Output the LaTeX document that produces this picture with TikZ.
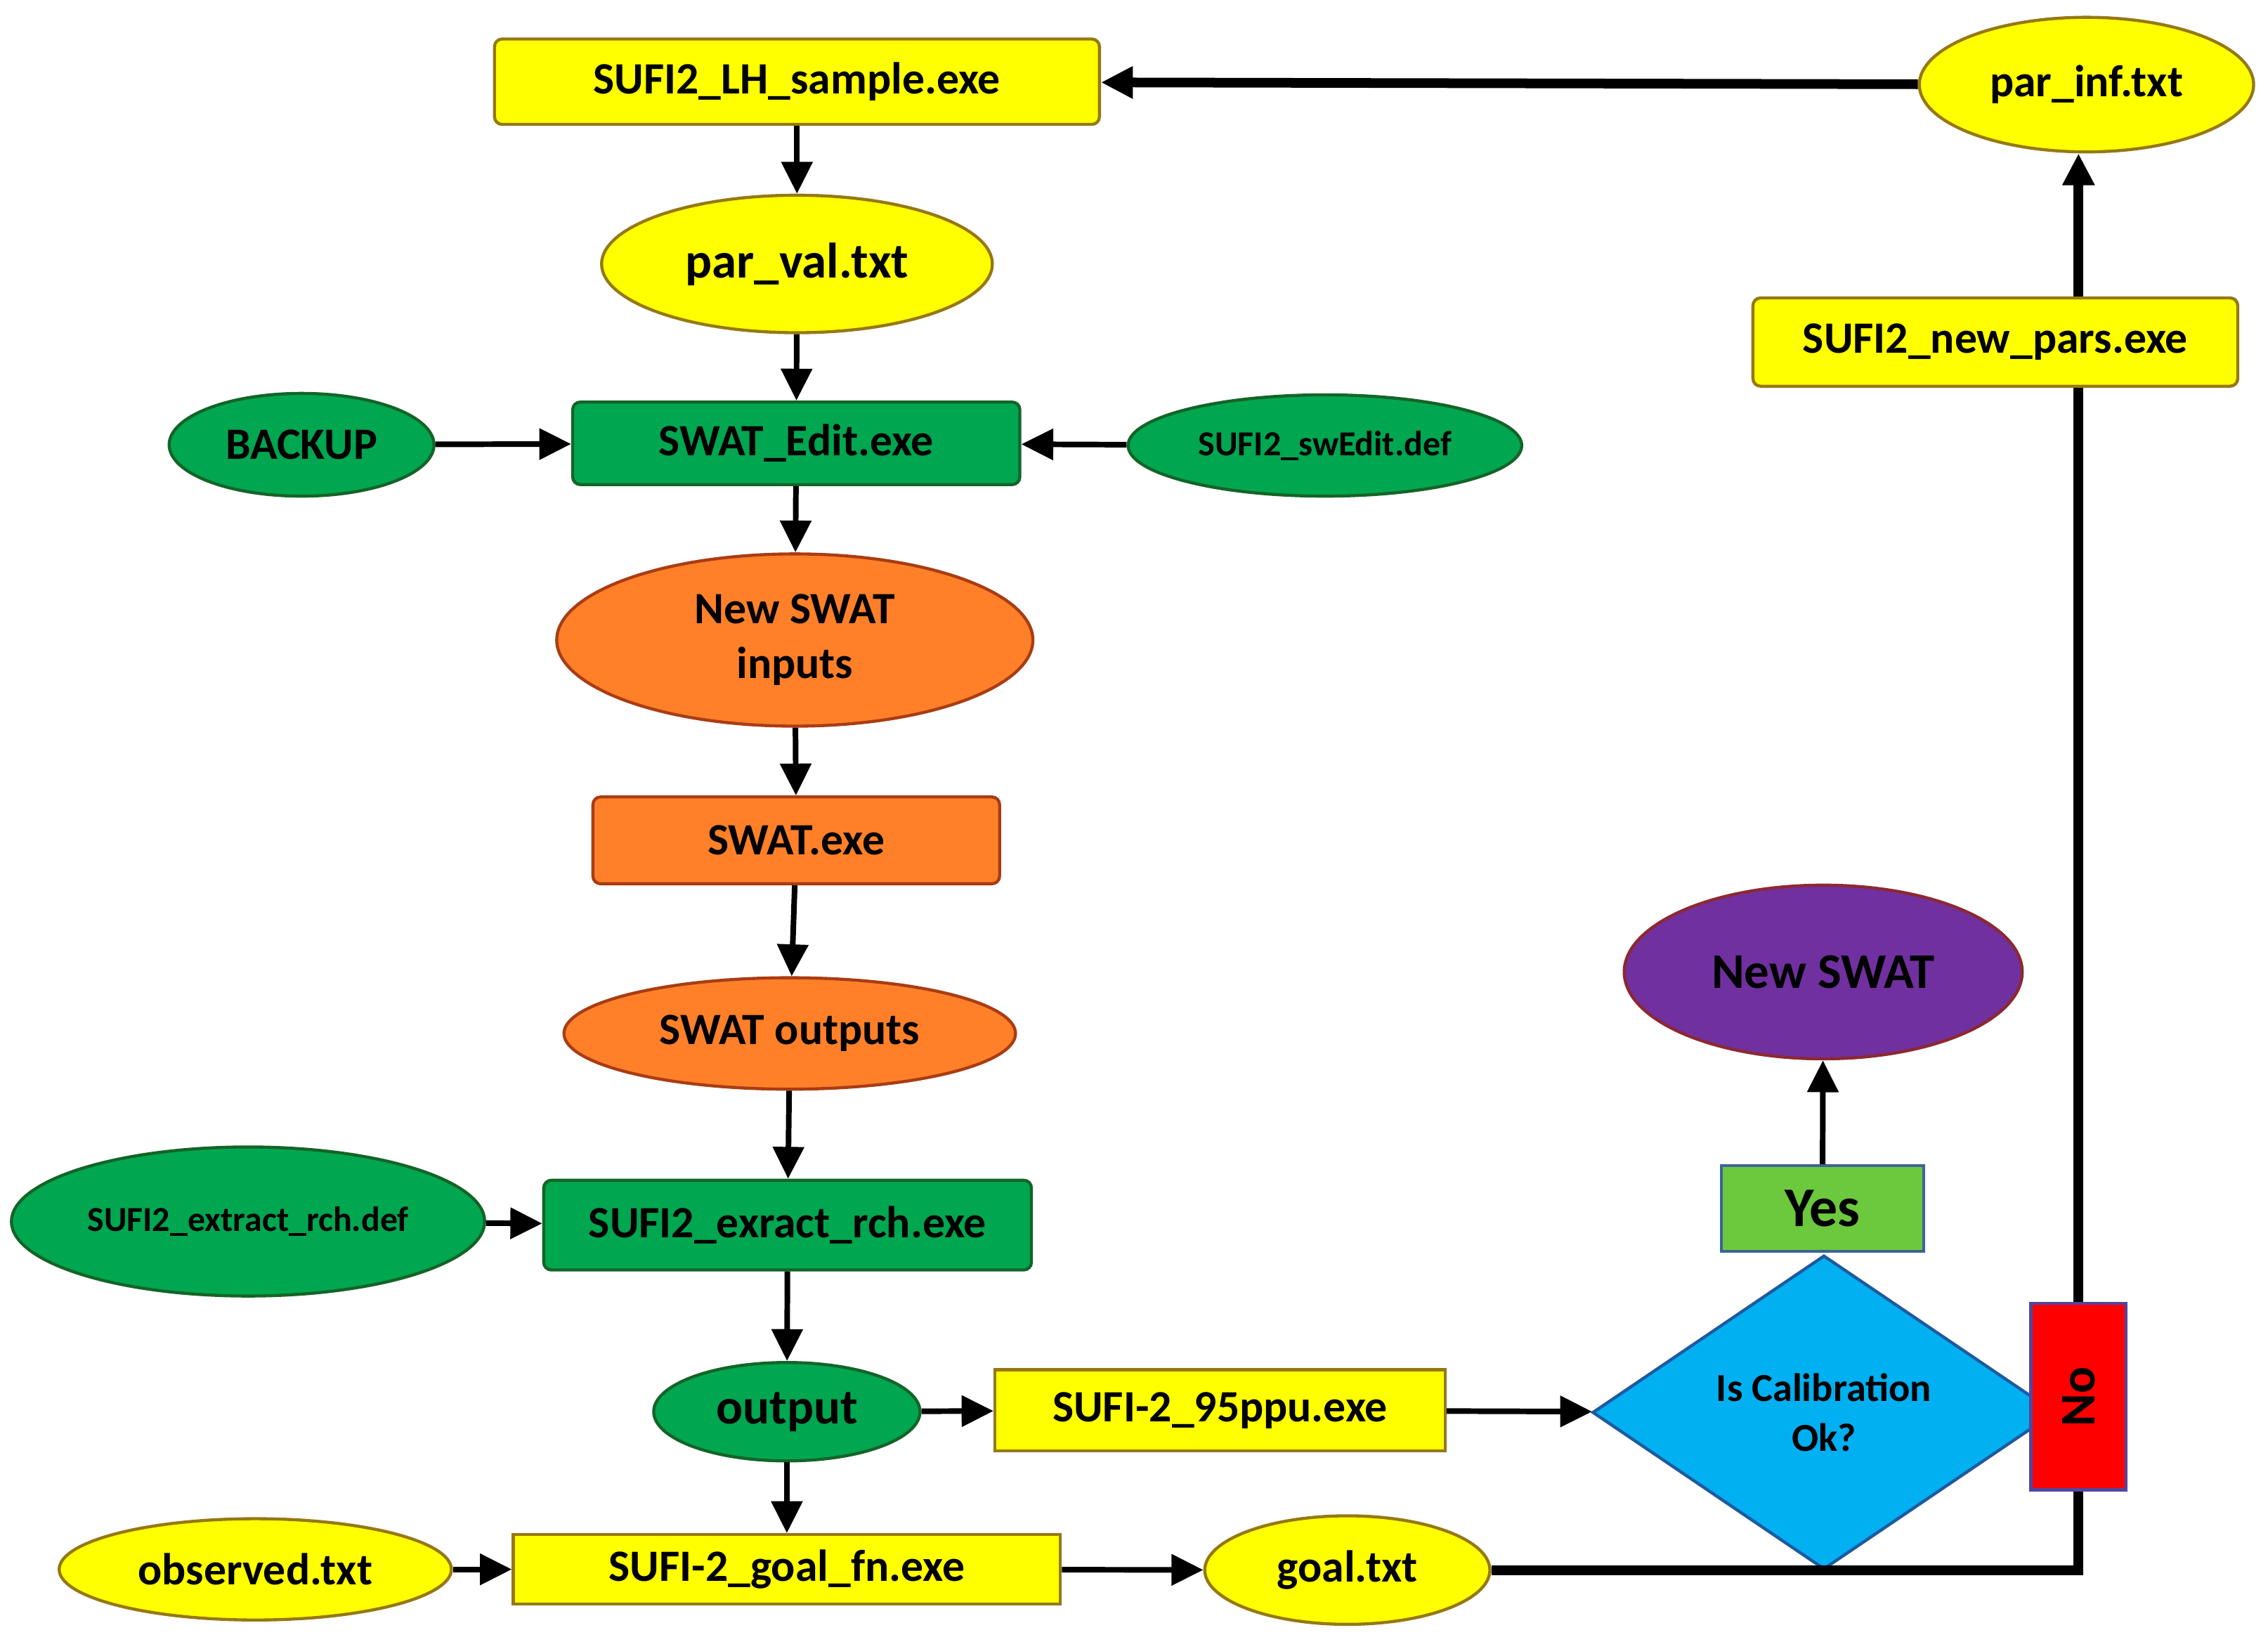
\documentclass[tikz,border=0pt]{standalone}
\usepackage{fontspec}
\setmainfont{Carlito}
\usetikzlibrary{shapes.geometric,arrows.meta}
\definecolor{yelfill}{RGB}{255,255,0}
\definecolor{yeldraw}{RGB}{150,120,20}
\definecolor{grnfill}{RGB}{0,166,80}
\definecolor{grndraw}{RGB}{20,100,40}
\definecolor{orgfill}{RGB}{255,128,40}
\definecolor{orgdraw}{RGB}{170,60,20}
\definecolor{purfill}{RGB}{112,48,160}
\definecolor{purdraw}{RGB}{140,40,50}
\definecolor{blufill}{RGB}{0,176,240}
\definecolor{bludraw}{RGB}{30,90,160}
\definecolor{yesfill}{RGB}{108,200,60}
\definecolor{yesdraw}{RGB}{60,100,150}
\definecolor{nofill}{RGB}{255,0,0}
\definecolor{nodraw}{RGB}{80,70,160}

\begin{document}
\begin{tikzpicture}[x=0.01cm,y=-0.01cm,
    base/.style={draw,line width=0.6pt,inner sep=0pt,align=center,font=\bfseries\fontsize{8.8}{10.8}\selectfont},
    box/.style={base,rectangle,rounded corners=1.5pt},
    sbox/.style={base,rectangle},
    oval/.style={base,ellipse},
    yel/.style={fill=yelfill,draw=yeldraw},
    grn/.style={fill=grnfill,draw=grndraw},
    org/.style={fill=orgfill,draw=orgdraw},
    big/.style={font=\bfseries\fontsize{9.8}{11}\selectfont},
    small/.style={font=\bfseries\fontsize{6.9}{8}\selectfont},
    arr/.style={line width=1.1pt,-{Triangle[length=2.2mm,width=2.1mm]}},
    loop/.style={line width=1.9pt}]
    \useasboundingbox (0,0) rectangle (1568,1140);
    \node[box,yel,minimum width=4.18cm,minimum height=0.59cm] (lhs) at (551,56.5) {SUFI2\_LH\_sample.exe};
    \node[oval,yel,minimum width=2.31cm,minimum height=0.93cm] (inf) at (1442.5,58.5) {par\_inf.txt};
    \node[oval,yel,big,minimum width=2.70cm,minimum height=0.95cm] (val) at (551,182.5) {par\_val.txt};
    \node[oval,grn,minimum width=1.83cm,minimum height=0.71cm] (bak) at (208.5,307.5) {BACKUP};
    \node[box,grn,minimum width=3.09cm,minimum height=0.57cm] (edit) at (550.5,306.5) {SWAT\_Edit.exe};
    \node[oval,grn,small,minimum width=2.72cm,minimum height=0.70cm] (swdef) at (916,308) {SUFI2\_swEdit.def};
    \node[oval,org,minimum width=3.29cm,minimum height=1.19cm] (inp) at (549.5,442.5) {New SWAT\\inputs};
    \node[box,org,minimum width=2.81cm,minimum height=0.60cm] (swat) at (550.5,581) {SWAT.exe};
    \node[oval,org,minimum width=3.12cm,minimum height=0.77cm] (outs) at (546,714.5) {SWAT outputs};
    \node[oval,grn,small,minimum width=3.27cm,minimum height=1.03cm] (rdef) at (171.5,844.5) {SUFI2\_extract\_rch.def};
    \node[box,grn,minimum width=3.37cm,minimum height=0.62cm] (rch) at (544.5,847) {SUFI2\_exract\_rch.exe};
    \node[oval,grn,big,minimum width=1.84cm,minimum height=0.68cm] (out) at (544,976) {output};
    \node[sbox,yel,minimum width=3.11cm,minimum height=0.56cm] (ppu) at (843.5,975) {SUFI-2\_95ppu.exe};
    \node[base,diamond,fill=blufill,draw=bludraw,minimum width=3.20cm,minimum height=2.17cm,font=\bfseries\fontsize{7.8}{9.9}\selectfont] (cal) at (1261,976.5) {Is Calibration\\Ok?};
    \node[sbox,fill=yesfill,draw=yesdraw,minimum width=1.40cm,minimum height=0.59cm,font=\bfseries\fontsize{11}{12}\selectfont] (yes) at (1260,835.5) {Yes};
    \node[oval,big,fill=purfill,draw=purdraw,minimum width=2.75cm,minimum height=1.20cm] (new) at (1260.5,672) {New SWAT};
    \node[sbox,big,fill=nofill,draw=nodraw,rotate=90,minimum width=1.29cm,minimum height=0.66cm] (no) at (1437,965.5) {No};
    \node[box,yel,minimum width=3.35cm,minimum height=0.61cm] (pars) at (1379.5,236.5) {SUFI2\_new\_pars.exe};
    \node[oval,yel,minimum width=2.71cm,minimum height=0.70cm] (obs) at (176.5,1085) {observed.txt};
    \node[sbox,yel,minimum width=3.78cm,minimum height=0.48cm] (goalfn) at (544,1085) {SUFI-2\_goal\_fn.exe};
    \node[oval,yel,minimum width=1.97cm,minimum height=0.75cm] (goal) at (931.5,1085.5) {goal.txt};
    \draw[arr] (lhs) -- (val);
    \draw[arr] (val) -- (edit);
    \draw[arr] (bak) -- (edit);
    \draw[arr] (swdef) -- (edit);
    \draw[arr] (edit) -- (inp);
    \draw[arr] (inp) -- (swat);
    \draw[arr] (swat) -- (outs);
    \draw[arr] (outs) -- (rch);
    \draw[arr] (rdef) -- (rch);
    \draw[arr] (rch) -- (out);
    \draw[arr] (out) -- (ppu);
    \draw[arr] (ppu) -- (cal);
    \draw[arr] (out) -- (goalfn);
    \draw[arr] (obs) -- (goalfn);
    \draw[arr] (goalfn) -- (goal);
    \draw[arr] (yes) -- (new);
    \draw[loop] (goal) -| (no);
    \draw[loop] (no) -- (no |- pars.south);
    \draw[loop,arr,line width=1.9pt] (pars.north -| no) -- (inf.south -| no);
    \draw[loop,arr,line width=1.9pt] (inf) -- (lhs);
\end{tikzpicture}
\end{document}
